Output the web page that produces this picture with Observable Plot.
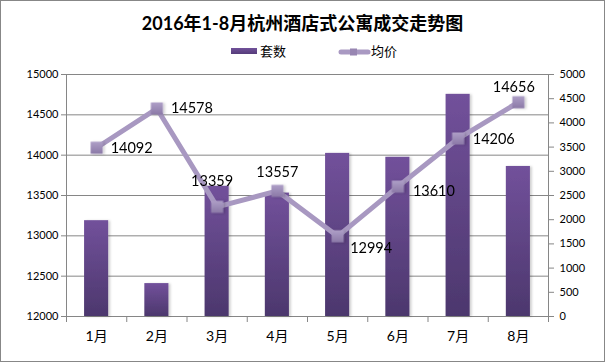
<!DOCTYPE html>
<html><head><meta charset="utf-8">
<script src="https://cdn.jsdelivr.net/npm/d3@7"></script>
<script src="https://cdn.jsdelivr.net/npm/@observablehq/plot@0.6"></script>
<style>
body{margin:0;background:#fff;}
#wrap{position:relative;width:607px;height:362px;font-family:Lato,"Noto Sans CJK SC",sans-serif;color:#000;}
#frame{position:absolute;left:0;top:0;width:605px;height:362px;box-sizing:border-box;border:1px solid #878787;}
#title{position:absolute;left:0;width:605px;top:10px;text-align:center;font-size:18px;font-weight:bold;line-height:26px;white-space:nowrap;}
.lg{position:absolute;font-size:13px;line-height:16px;top:43px;font-family:"Noto Sans CJK SC",sans-serif;}
#chart{position:absolute;left:0;top:60px;}
</style></head>
<body>
<div id="wrap">
  <div id="frame"></div>
  <div id="title">2016年1-8月杭州酒店式公寓成交走势图</div>
  <svg style="position:absolute;left:225px;top:44px" width="160" height="16">
    <defs>
      <linearGradient id="lgBar" x1="0" y1="0" x2="0" y2="1"><stop offset="0" stop-color="#71519a"/><stop offset="1" stop-color="#553c7a"/></linearGradient>
    </defs>
    <rect x="6" y="4" width="26" height="6" fill="url(#lgBar)"/>
    <line x1="116" y1="8" x2="143" y2="8" stroke="#a999c2" stroke-width="5" stroke-linecap="round"/>
    <rect x="125" y="4.5" width="7" height="7" fill="#9886b2"/>
  </svg>
  <div class="lg" style="left:260px">套数</div>
  <div class="lg" style="left:371px">均价</div>
  <div id="chart"></div>
</div>
<script>
// ---- data ----
const months = ["1月","2月","3月","4月","5月","6月","7月","8月"];
const units  = [1980, 680, 2690, 2550, 3370, 3290, 4590, 3100];          // 套数 (right axis)
const prices = [14092, 14578, 13359, 13557, 12994, 13610, 14206, 14656]; // 均价 (left axis)
const leftTicks  = [12000, 12500, 13000, 13500, 14000, 14500, 15000];
const rightTicks = [0, 500, 1000, 1500, 2000, 2500, 3000, 3500, 4000, 4500, 5000];

// ---- label placement (style) ----
const labelDx = [14, 14, -5, 0, 12.5, 15, 14.6, -4.6];
const labelDy = [1, 0, -26, -19, 12, 4.5, 1, -15];
const labelAnchor = ["start","start","middle","middle","start","start","start","middle"];

const L0 = leftTicks[0], L1 = leftTicks[leftTicks.length-1];
const R1 = rightTicks[rightTicks.length-1];
const toY = p => (p - L0) / (L1 - L0) * R1;
const fromY = y => Math.round(L0 + y / R1 * (L1 - L0));

const rows = months.map((m, i) => ({month: m, i, units: units[i], price: prices[i], py: toY(prices[i])}));
const xc = d => d.i + 0.5;
const grid = "#868686";
const BAR = "#6a4c93", MK = "#9886b2";

const labelMarks = rows.map((d, i) => Plot.text([d], {
  x: xc, y: "py", text: r => String(r.price),
  dx: labelDx[i], dy: labelDy[i], textAnchor: labelAnchor[i],
  fontSize: 14.5, fill: "#000", fontFamily: "Lato, sans-serif"
}));

const chart = Plot.plot({
  width: 607, height: 295,
  marginTop: 14, marginBottom: 39, marginLeft: 66, marginRight: 59,
  style: {fontFamily: 'Lato, "Noto Sans CJK SC", sans-serif', fontSize: "11px", color: "#000", background: "transparent", overflow: "visible"},
  x: {domain: [0, months.length], axis: null},
  y: {domain: [0, R1], axis: null},
  marks: [
    Plot.ruleY(leftTicks.map(toY), {stroke: grid, strokeWidth: 1}),
    Plot.rectY(rows, {x1: d => d.i + 0.3, x2: d => d.i + 0.7, y: "units", fill: BAR, inset: 0}),
    Plot.ruleX([0, months.length], {stroke: grid}),
    Plot.axisY(leftTicks.map(toY), {anchor: "left", tickFormat: d => String(fromY(d)), tickSize: 5, tickPadding: 3, stroke: grid, fill: "#000", label: null, fontSize: 11}),
    Plot.axisY(rightTicks, {anchor: "right", tickFormat: d => String(d), tickSize: 5, tickPadding: 6, stroke: grid, fill: "#000", label: null, fontSize: 11}),
    Plot.axisX(d3.range(months.length + 1), {anchor: "bottom", tickSize: 6, tickFormat: () => "", stroke: grid, label: null}),
    Plot.axisX(months.map((m, i) => i + 0.5), {anchor: "bottom", tickSize: 0, tickPadding: 15, tickFormat: d => months[Math.floor(d)], fontSize: 14, fill: "#000", label: null}),
    Plot.line(rows, {x: xc, y: "py", stroke: "#a898c1", strokeWidth: 5}),
    Plot.dot(rows, {x: xc, y: "py", symbol: "square", r: 6.8, fill: MK, stroke: "none"}),
    ...labelMarks
  ]
});
document.getElementById("chart").appendChild(chart);

// gradients & shadows
const svg = d3.select(chart);
const defs = svg.insert("defs", ":first-child");
const bg = defs.append("linearGradient").attr("id", "barGrad").attr("x1", 0).attr("y1", 0).attr("x2", 0).attr("y2", 1);
bg.append("stop").attr("offset", "0").attr("stop-color", "#72519b");
bg.append("stop").attr("offset", "1").attr("stop-color", "#4c376d");
const mg = defs.append("linearGradient").attr("id", "mkGrad").attr("x1", 0).attr("y1", 0).attr("x2", 0).attr("y2", 1);
mg.append("stop").attr("offset", "0").attr("stop-color", "#ae9fc7");
mg.append("stop").attr("offset", "1").attr("stop-color", "#8b79a7");
const f = defs.append("filter").attr("id", "shadow").attr("x", "-10%").attr("y", "-10%").attr("width", "120%").attr("height", "120%");
f.append("feDropShadow").attr("dx", 2).attr("dy", 0.5).attr("stdDeviation", 1.2).attr("flood-color", "#000").attr("flood-opacity", 0.18);
svg.selectAll("g").filter(function() { return this.getAttribute("fill") === BAR; })
  .attr("fill", "url(#barGrad)").attr("filter", "url(#shadow)");
svg.selectAll("g").filter(function() { return this.getAttribute("fill") === MK; })
  .attr("fill", "url(#mkGrad)").attr("filter", "url(#shadow)");
</script>
</body></html>
